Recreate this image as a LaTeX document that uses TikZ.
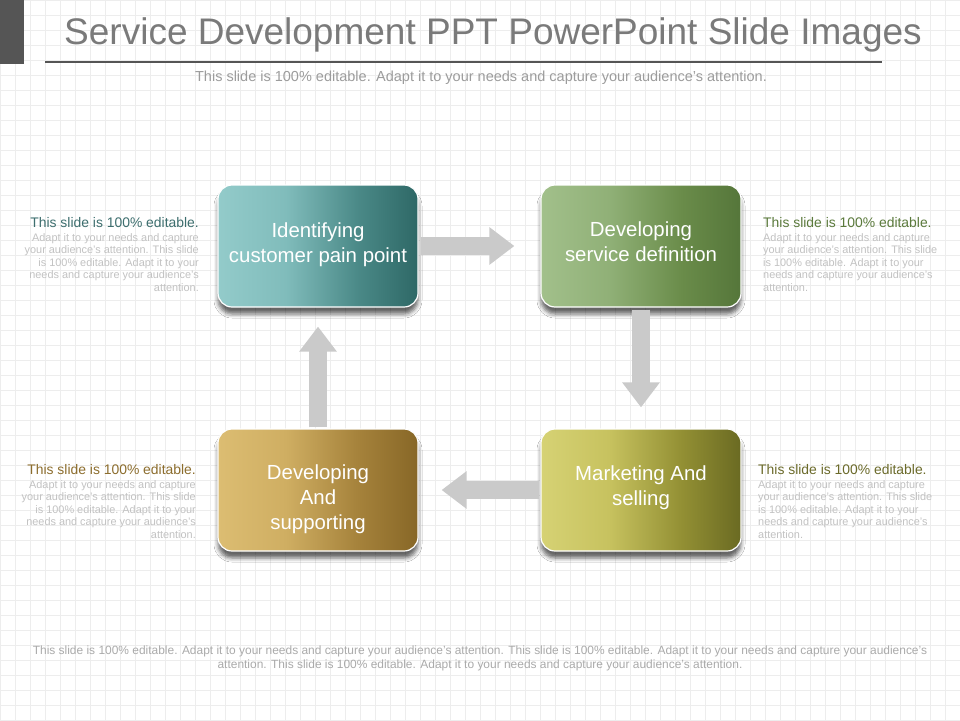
\documentclass[tikz,border=0pt]{standalone}
\usepackage{fontspec}
\setmainfont{Liberation Sans}
\usetikzlibrary{shadows.blur,arrows.meta}
\definecolor{gridc}{HTML}{EDEDED}
\definecolor{bargray}{HTML}{555555}
\definecolor{titlegray}{HTML}{7A7A7A}
\definecolor{subgray}{HTML}{9C9C9C}
\definecolor{bodygray}{HTML}{C2C2C2}
\definecolor{botgray}{HTML}{AAAAAA}
\definecolor{arrowgray}{HTML}{CACACA}
\definecolor{tealA}{HTML}{93CBCA}
\definecolor{tealB}{HTML}{80BCBB}
\definecolor{tealC}{HTML}{4A8987}
\definecolor{tealD}{HTML}{2E6866}
\definecolor{greenA}{HTML}{A2C08B}
\definecolor{greenB}{HTML}{90B077}
\definecolor{greenC}{HTML}{6A8C4A}
\definecolor{greenD}{HTML}{55763A}
\definecolor{goldA}{HTML}{DCBD72}
\definecolor{goldB}{HTML}{CFAE62}
\definecolor{goldC}{HTML}{A5823B}
\definecolor{goldD}{HTML}{876727}
\definecolor{oliveA}{HTML}{D6D274}
\definecolor{oliveB}{HTML}{C7C25F}
\definecolor{oliveC}{HTML}{939034}
\definecolor{oliveD}{HTML}{6A6A22}
\definecolor{tealT}{HTML}{3D6E6E}
\definecolor{greenT}{HTML}{5B7A3C}
\definecolor{goldT}{HTML}{8C6D2D}
\definecolor{oliveT}{HTML}{6B6A2A}
\pgfdeclarehorizontalshading{tealshade}{100bp}{color(0bp)=(tealA); color(25bp)=(tealA); color(42bp)=(tealB); color(60bp)=(tealC); color(75bp)=(tealD); color(100bp)=(tealD)}
\pgfdeclarehorizontalshading{greenshade}{100bp}{color(0bp)=(greenA); color(25bp)=(greenA); color(42bp)=(greenB); color(60bp)=(greenC); color(75bp)=(greenD); color(100bp)=(greenD)}
\pgfdeclarehorizontalshading{goldshade}{100bp}{color(0bp)=(goldA); color(25bp)=(goldA); color(42bp)=(goldB); color(60bp)=(goldC); color(75bp)=(goldD); color(100bp)=(goldD)}
\pgfdeclarehorizontalshading{oliveshade}{100bp}{color(0bp)=(oliveA); color(25bp)=(oliveA); color(42bp)=(oliveB); color(60bp)=(oliveC); color(75bp)=(oliveD); color(100bp)=(oliveD)}
\begin{document}
\begin{tikzpicture}[x=1pt,y=-1pt,
  stepbox/.style={rounded corners=14pt, minimum width=200pt, minimum height=122pt,
    draw=white, line width=1.2pt, inner sep=0pt,
    blur shadow={shadow xshift=0pt, shadow yshift=-7pt, shadow opacity=60, shadow blur radius=4pt}},
  boxtext/.style={text=white, align=center, inner sep=0pt, font=\fontsize{20.4}{25}\selectfont},
  flowarrow/.style={draw=arrowgray, line width=18pt, -{Triangle[width=36pt,length=25pt]}},
  sidehead/.style={inner sep=0pt, font=\fontsize{13.9}{16}\selectfont},
  sidebody/.style={inner sep=0pt, text=bodygray, font=\fontsize{10.9}{12.6}\selectfont}]
\useasboundingbox (0,0) rectangle (960,720);
\fill[white] (0,0) rectangle (960,720);
\foreach \gx in {0,15,...,960} {\draw[gridc, line width=0.6pt] (\gx,0) -- (\gx,720);}
\foreach \gy in {0,15,...,720} {\draw[gridc, line width=0.6pt] (0,\gy) -- (960,\gy);}
\fill[bargray] (0,0) rectangle (24,64);
\node[text=titlegray, inner sep=0pt, font=\fontsize{37}{44}\selectfont] (title) at (493,35) {Service Development PPT PowerPoint Slide Images};
\draw[bargray, line width=1.8pt] (45,62) -- (882,62);
\node[text=subgray, inner sep=0pt, font=\fontsize{14.5}{17}\selectfont] (subtitle) at (481,78) {This slide is 100\% editable. Adapt it to your needs and capture your audience's attention.};

\node[stepbox, shading=tealshade] (b1) at (318,246) {};
\node[stepbox, shading=greenshade] (b2) at (641,246) {};
\node[stepbox, shading=goldshade] (b3) at (318,490) {};
\node[stepbox, shading=oliveshade] (b4) at (641,490) {};
\node[boxtext] (b1t) at (318,244.5) {Identifying\\customer pain point};
\node[boxtext] (b2t) at (641,242) {Developing\\service definition};
\node[boxtext] (b3t) at (318,499.7) {Developing\\And\\supporting};
\node[boxtext] (b4t) at (641,487.5) {Marketing And\\selling};

\draw[flowarrow, shorten <=2pt, shorten >=26pt] (b1.east) -- (b2.west);
\draw[flowarrow, shorten <=2pt, shorten >=21pt] (b2.south) -- (b4.north);
\draw[flowarrow, shorten <=1pt, shorten >=23pt] (b4.west) -- (b3.east);
\draw[flowarrow, shorten <=1pt, shorten >=19pt] (b3.north) -- (b1.south);

\node[sidehead, text=tealT, anchor=east] (t1) at (199,223) {This slide is 100\% editable.};
\node[sidebody, anchor=north east, align=right] (d1) at (199,233) {Adapt it to your needs and capture\\your audience's attention. This slide\\is 100\% editable. Adapt it to your\\needs and capture your audience's\\attention.};

\node[sidehead, text=greenT, anchor=west] (t2) at (763,223) {This slide is 100\% editable.};
\node[sidebody, anchor=north west, align=left] (d2) at (763,233) {Adapt it to your needs and capture\\your audience's attention. This slide\\is 100\% editable. Adapt it to your\\needs and capture your audience's\\attention.};

\node[sidehead, text=goldT, anchor=east] (t3) at (196,470) {This slide is 100\% editable.};
\node[sidebody, anchor=north east, align=right] (d3) at (196,480) {Adapt it to your needs and capture\\your audience's attention. This slide\\is 100\% editable. Adapt it to your\\needs and capture your audience's\\attention.};

\node[sidehead, text=oliveT, anchor=west] (t4) at (758,470) {This slide is 100\% editable.};
\node[sidebody, anchor=north west, align=left] (d4) at (758,480) {Adapt it to your needs and capture\\your audience's attention. This slide\\is 100\% editable. Adapt it to your\\needs and capture your audience's\\attention.};

\node[text=botgray, inner sep=0pt, align=center, font=\fontsize{11.95}{14}\selectfont] (bottom) at (480,658) {This slide is 100\% editable. Adapt it to your needs and capture your audience's attention. This slide is 100\% editable. Adapt it to your needs and capture your audience's\\attention. This slide is 100\% editable. Adapt it to your needs and capture your audience's attention.};
\end{tikzpicture}
\end{document}
